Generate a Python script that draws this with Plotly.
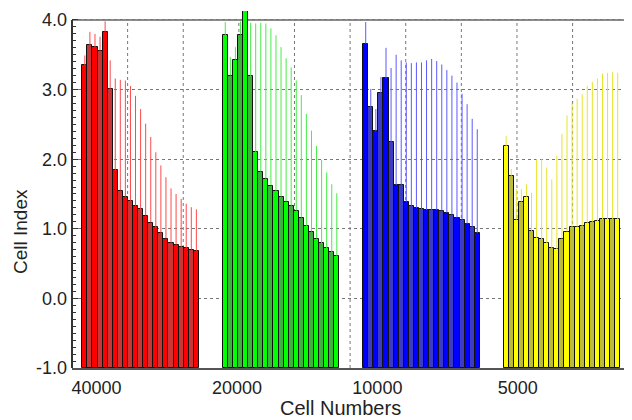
import plotly.graph_objects as go
import numpy as np

# ---- data ----
group_labels = ["40000", "20000", "10000", "5000"]

red_vals = [3.35, 3.64, 3.61, 3.56, 3.83, 3.01, 1.84, 1.55, 1.46, 1.40, 1.33, 1.28,
            1.19, 1.09, 1.02, 0.94, 0.86, 0.80, 0.77, 0.74, 0.72, 0.70, 0.68]
red_upper = [3.49, 3.83, 3.80, 3.76, 3.98, 3.42, 3.16, 3.14, 3.13, 3.05, 2.91, 2.72,
             2.51, 2.32, 2.10, 1.91, 1.74, 1.58, 1.50, 1.43, 1.36, 1.31, 1.28]

green_vals = [3.78, 3.20, 3.43, 3.79, 4.13, 3.19, 2.10, 1.82, 1.72, 1.62, 1.54, 1.46,
              1.39, 1.33, 1.26, 1.16, 1.04, 0.96, 0.86, 0.79, 0.72, 0.66, 0.61]
green_upper = [3.97, 3.47, 3.61, 3.98, 4.20, 3.96, 3.95, 3.96, 3.95, 3.88, 3.78, 3.61,
               3.45, 3.32, 3.13, 2.92, 2.65, 2.41, 2.19, 1.99, 1.81, 1.64, 1.51]

blue_vals = [3.66, 2.75, 2.40, 2.95, 3.16, 2.25, 1.63, 1.63, 1.39, 1.33, 1.30, 1.28,
             1.27, 1.27, 1.27, 1.26, 1.23, 1.20, 1.16, 1.12, 1.07, 1.02, 0.94]
blue_upper = [3.97, 3.01, 2.72, 3.18, 3.60, 3.31, 3.50, 3.42, 3.39, 3.38, 3.39, 3.39,
              3.42, 3.44, 3.41, 3.36, 3.28, 3.20, 3.10, 2.94, 2.79, 2.58, 2.43]

yellow_vals = [2.19, 1.76, 1.13, 1.39, 1.46, 0.97, 0.87, 0.85, 0.79, 0.72, 0.71, 0.86,
               0.96, 1.02, 1.03, 1.04, 1.08, 1.10, 1.11, 1.14, 1.14, 1.14, 1.14]
yellow_upper = [2.33, 1.86, 1.57, 1.57, 1.64, 1.52, 2.00, 2.00, 1.88, 1.71, 2.05, 2.36,
                2.63, 2.80, 2.87, 2.93, 3.05, 3.11, 3.16, 3.23, 3.24, 3.25, 3.24]

y_ticks = [-1.0, 0.0, 1.0, 2.0, 3.0, 4.0]

# ---- styling ----
series = [(red_vals, red_upper), (green_vals, green_upper),
          (blue_vals, blue_upper), (yellow_vals, yellow_upper)]
fills = [("#ff0000", "#c83636"), ("#00ff00", "#3cb43c"),
         ("#0000ff", "#3c3cc4"), ("#ffff00", "#bcbc38")]
err_colors = ["#ff4848", "#44ee44", "#5a5aff", "#e6e62a"]

GROUP_STEP = 27.7
BASE = -1.0
X0 = -2.53
X1 = 107.92
Y_TOP = 4.129

fig = go.Figure()
for g, (vals, upper) in enumerate(series):
    n = len(vals)
    x = [g * GROUP_STEP + k for k in range(n)]
    colors = [fills[g][k % 2] for k in range(n)]
    fig.add_trace(go.Bar(
        x=x, y=[v - BASE for v in vals], base=BASE, width=1.0,
        marker=dict(color=colors, line=dict(color="#111111", width=1)),
        showlegend=False, hoverinfo="skip"))
    fig.add_trace(go.Scatter(
        x=x, y=vals, mode="markers",
        marker=dict(size=2, opacity=0),
        error_y=dict(type="data", symmetric=False,
                     array=[u - v for u, v in zip(upper, vals)],
                     arrayminus=[0] * n, color=err_colors[g],
                     thickness=1, width=0),
        showlegend=False, hoverinfo="skip"))

tick_pos = [g * GROUP_STEP + 2.3 for g in range(len(group_labels))]

shapes = []
# vertical dotted grid lines
for j in range(1, 11):
    xv = X0 + 10.97 * j
    shapes.append(dict(type="line", xref="x", yref="y", x0=xv, x1=xv, y0=-1, y1=4,
                       line=dict(color="#777777", width=1, dash="dot"), layer="between"))
# top frame line and left axis line
shapes.append(dict(type="line", xref="paper", yref="y", x0=0, x1=1, y0=4, y1=4,
                   line=dict(color="#8c8c8c", width=2), layer="between"))
shapes.append(dict(type="line", xref="paper", yref="y", x0=0, x1=0, y0=-1, y1=4,
                   line=dict(color="#333333", width=2), layer="above"))

minor_vals = [round(v, 1) for v in np.arange(-1.0, 4.0001, 0.1)
              if abs(round(v, 1) - round(v)) > 1e-6]

# the page body adds an 8px offset; margins compensate for it
fig.update_layout(
    width=632, height=420,
    margin=dict(l=64, r=8, t=3, b=60, autoexpand=False),
    paper_bgcolor="white", plot_bgcolor="white",
    bargap=0, barmode="overlay",
    font=dict(family="Liberation Sans, Arial, sans-serif", size=18, color="#222222"),
    xaxis=dict(range=[X0, X1], tickmode="array", tickvals=tick_pos, ticktext=group_labels,
               showgrid=False, zeroline=False, showline=True, linecolor="#555555",
               linewidth=2, ticks="", ticklabelstandoff=2, automargin=False,
               tickfont=dict(size=18)),
    yaxis=dict(range=[-1, Y_TOP], tickmode="array", tickvals=y_ticks,
               ticktext=[f"{v:.1f}" for v in y_ticks],
               showgrid=True, gridcolor="#777777", griddash="dot", gridwidth=1,
               zeroline=False, showline=False, automargin=False,
               ticks="inside", ticklen=6, tickcolor="#333333", tickwidth=1,
               minor=dict(tickmode="array", tickvals=minor_vals, ticks="inside",
                          ticklen=4, tickcolor="#333333", showgrid=False),
               tickfont=dict(size=18), ticklabelstandoff=4),
    shapes=shapes,
    annotations=[
        dict(text="Cell Index", xref="paper", yref="paper",
             x=(20 - 72) / 560, y=(368 - 232) / 357, textangle=-90,
             xanchor="center", yanchor="middle",
             showarrow=False, font=dict(size=19)),
        dict(text="Cell Numbers", xref="paper", yref="paper",
             x=(340 - 72) / 560, y=(368 - 408) / 357,
             xanchor="center", yanchor="middle",
             showarrow=False, font=dict(size=20)),
    ],
)

fig.write_html("out.html")
